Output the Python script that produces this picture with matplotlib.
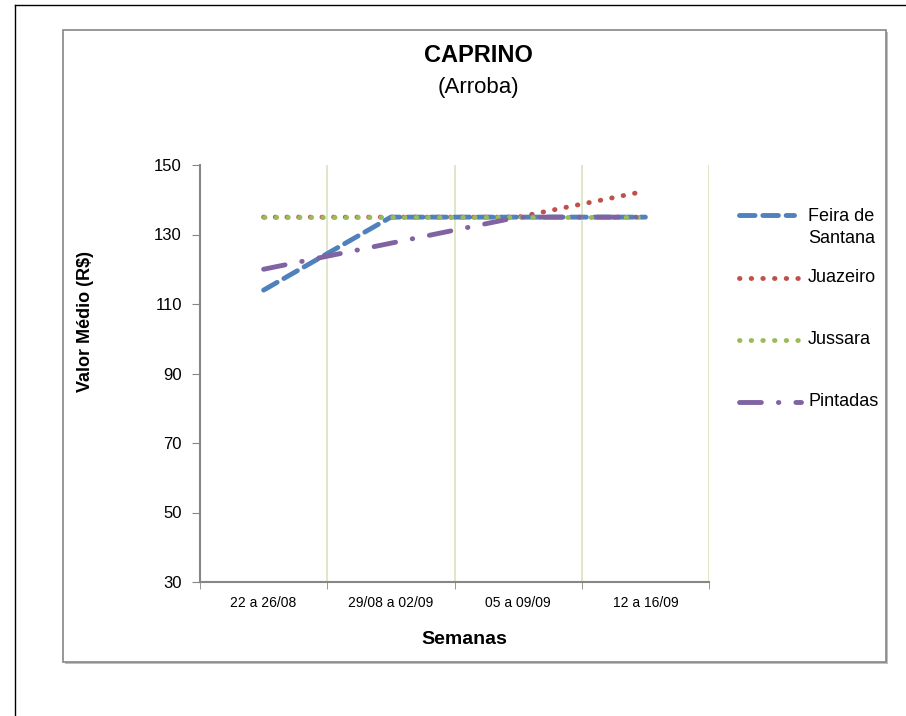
import matplotlib
matplotlib.use("Agg")
import matplotlib.pyplot as plt
from matplotlib.patches import Rectangle
from matplotlib.lines import Line2D

semanas = ["22 a 26/08", "29/08 a 02/09", "05 a 09/09", "12 a 16/09"]
feira = [114, 135, 135, 135]
juazeiro = [135, 135, 135, 142.5]
jussara = [135, 135, 135, 135]
pintadas = [120, 127.5, 135, 135]

plt.rcParams['font.family'] = ['Liberation Sans', 'DejaVu Sans']

W, H = 906, 716
fig = plt.figure(figsize=(W / 100, H / 100), dpi=100)

def fx(px):
    return px / W

def fy(py):
    return 1 - py / H

# outer page lines
fig.add_artist(Line2D([fx(15), 1], [fy(5), fy(5)], color='black', lw=1, zorder=-3))
fig.add_artist(Line2D([fx(15), fx(15)], [0, fy(5)], color='black', lw=1, zorder=-3))
# chart frame with shadow
fig.add_artist(Rectangle((fx(65), fy(664)), 823 / W, 632 / H, facecolor='#bfbfbf',
                         edgecolor='none', zorder=-2))
fig.add_artist(Rectangle((fx(63), fy(662)), 823 / W, 632 / H, facecolor='white',
                         edgecolor='#868686', lw=1.2, zorder=-1))

ax = fig.add_axes([fx(200), fy(582), 509 / W, 417 / H])
ax.set_zorder(1)
x = list(range(len(semanas)))

dots = (0, (0.1, 2.3))
styles = {
    'Feira de\nSantana': dict(color='#4f81bd', linestyle=(0, (3.2, 1.6))),
    'Juazeiro': dict(color='#c0504d', linestyle=dots),
    'Jussara': dict(color='#9bbb59', linestyle=dots),
    'Pintadas': dict(color='#8064a2', linestyle=(0, (4.5, 3.5, 0.1, 3.5))),
}

ax.plot(x, juazeiro, lw=3.5, dash_capstyle='round', zorder=2, **styles['Juazeiro'])
ax.plot(x, feira, lw=3.5, dash_capstyle='round', zorder=2.5, **styles['Feira de\nSantana'])
ax.plot(x, jussara, lw=3.5, dash_capstyle='round', zorder=3, **styles['Jussara'])
ax.plot(x, pintadas, lw=3.5, dash_capstyle='round', zorder=4, **styles['Pintadas'])

ax.set_xlim(-0.5, 3.5)
ax.set_ylim(30, 150)
ax.set_yticks(range(30, 151, 20))
ax.set_xticks(x)
ax.set_xticklabels(semanas, fontsize=10)
ax.set_xticks([-0.5, 0.5, 1.5, 2.5, 3.5], minor=True)
ax.tick_params(axis='x', which='major', length=0, pad=10)
ax.tick_params(axis='x', which='minor', length=5, color='#868686', direction='out')
ax.tick_params(axis='y', length=6, color='#868686', labelsize=12, pad=7)
for g in [0.5, 1.5, 2.5, 3.5]:
    ax.axvline(g, color='#d7e4bd', lw=1.2, zorder=1)

for s in ['top', 'right']:
    ax.spines[s].set_visible(False)
for s in ['left', 'bottom']:
    ax.spines[s].set_color('#868686')
    ax.spines[s].set_linewidth(1.5)

ax.set_xlabel("Semanas", fontsize=14, fontweight='bold')
ax.xaxis.set_label_coords((464 - 200) / 509, (582 - 640) / 417)
ax.xaxis.label.set_va('center')
ax.set_ylabel("Valor Médio (R$)", fontsize=13, fontweight='bold')
ax.yaxis.set_label_coords((85 - 200) / 509, (582 - 322) / 417)
ax.yaxis.label.set_va('center')

fig.text(fx(478), fy(55), "CAPRINO", ha='center', va='center', fontsize=17, fontweight='bold')
fig.text(fx(478), fy(88), "(Arroba)", ha='center', va='center', fontsize=16)

# legend drawn by hand to follow the Excel layout
leg_y = {'Feira de\nSantana': 215, 'Juazeiro': 278, 'Jussara': 340, 'Pintadas': 402}
leg_end = {'Feira de\nSantana': 794, 'Juazeiro': 800, 'Jussara': 800, 'Pintadas': 801}
for name, yy in leg_y.items():
    fig.add_artist(Line2D([fx(739), fx(leg_end[name])], [fy(yy), fy(yy)], lw=3.5,
                          dash_capstyle='round', **styles[name]))
    if '\n' in name:
        fig.text(fx(808), fy(yy + 12.5), name, ha='left', va='center', fontsize=13,
                 linespacing=1.4)
    else:
        fig.text(fx(808), fy(yy), name, ha='left', va='center', fontsize=13)

fig.savefig("out.png", dpi=100)
